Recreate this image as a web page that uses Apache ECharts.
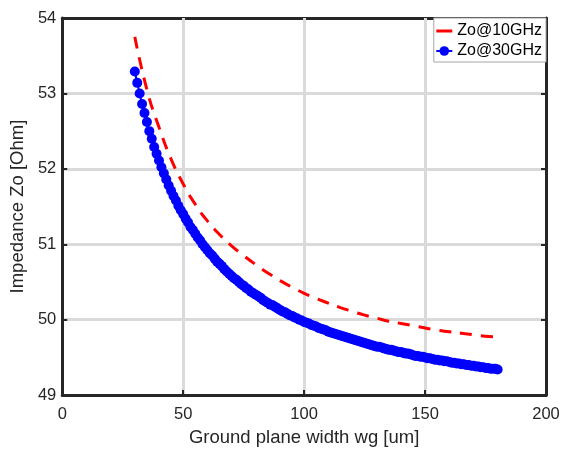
<!DOCTYPE html>
<html>
<head>
<meta charset="utf-8">
<script src="https://cdn.jsdelivr.net/npm/echarts@6/dist/echarts.min.js"></script>
<style>html,body{margin:0;padding:0;background:#fff;overflow:hidden;}#c{width:563px;height:452px;}</style>
</head>
<body>
<div id="c"></div>
<script>
// Zo @ 10 GHz (dashed red)
const wg10 = [30,35,40,45,50,55,60,65,70,75,80,85,90,95,100,105,110,115,120,125,130,135,140,145,150,155,160,165,170,175,180];
const zo10 = [53.75,53.05,52.55,52.13,51.80,51.53,51.31,51.13,50.98,50.85,50.73,50.62,50.52,50.43,50.35,50.28,50.22,50.16,50.11,50.06,50.02,49.98,49.95,49.92,49.89,49.86,49.84,49.82,49.80,49.78,49.77];

// Zo @ 30 GHz (blue with markers)
const wg30 = [30,31,32,33,34,35,36,37,38,39,40,41,42,43,44,45,46,47,48,49,50,51,52,53,54,55,56,57,58,59,60,61,62,63,64,65,66,67,68,69,70,71,72,73,74,75,76,77,78,79,80,81,82,83,84,85,86,87,88,89,90,91,92,93,94,95,96,97,98,99,100,101,102,103,104,105,106,107,108,109,110,111,112,113,114,115,116,117,118,119,120,121,122,123,124,125,126,127,128,129,130,131,132,133,134,135,136,137,138,139,140,141,142,143,144,145,146,147,148,149,150,151,152,153,154,155,156,157,158,159,160,161,162,163,164,165,166,167,168,169,170,171,172,173,174,175,176,177,178,179,180];
const zo30 = [53.29,53.14,53.00,52.86,52.74,52.62,52.50,52.40,52.29,52.20,52.11,52.02,51.94,51.86,51.78,51.71,51.64,51.58,51.51,51.45,51.40,51.34,51.29,51.23,51.19,51.14,51.09,51.05,51.00,50.96,50.92,50.88,50.85,50.81,50.77,50.74,50.71,50.67,50.64,50.61,50.58,50.55,50.53,50.50,50.47,50.45,50.42,50.40,50.37,50.35,50.33,50.31,50.29,50.26,50.24,50.22,50.20,50.19,50.17,50.15,50.13,50.11,50.10,50.08,50.06,50.05,50.03,50.02,50.00,49.99,49.97,49.96,49.95,49.93,49.92,49.91,49.89,49.88,49.87,49.86,49.84,49.83,49.82,49.81,49.80,49.79,49.78,49.77,49.76,49.75,49.74,49.73,49.72,49.71,49.70,49.69,49.68,49.67,49.66,49.65,49.64,49.64,49.63,49.62,49.61,49.60,49.60,49.59,49.58,49.57,49.57,49.56,49.55,49.55,49.54,49.53,49.52,49.52,49.51,49.51,49.50,49.49,49.49,49.48,49.47,49.47,49.46,49.46,49.45,49.45,49.44,49.43,49.43,49.42,49.42,49.41,49.41,49.40,49.40,49.39,49.39,49.38,49.38,49.37,49.37,49.36,49.36,49.35,49.35,49.35,49.34];

const xTicks = [0, 50, 100, 150, 200];
const yTicks = [49, 50, 51, 52, 53, 54];
const seriesNames = ['Zo@10GHz', 'Zo@30GHz'];
const xName = 'Ground plane width wg [um]';
const yName = 'Impedance Zo [Ohm]';

const FONT = '"Liberation Sans", Arial, sans-serif';
const AX = '#262626';
const GRIDC = '#dadada';

const chart = echarts.init(document.getElementById('c'), null, {renderer: 'canvas'});

const baseX = {
  type: 'value', min: xTicks[0], max: xTicks[xTicks.length-1], interval: 50,
};
const baseY = {
  type: 'value', min: yTicks[0], max: yTicks[yTicks.length-1], interval: 1,
};
const grid = {show: true, lineStyle: {color: GRIDC, width: 3}, showMinLine: false, showMaxLine: false};

chart.setOption({
  animation: false,
  backgroundColor: '#fff',
  grid: {left: 58, right: 17, top: 18, bottom: 49, containLabel: false},
  legend: {
    data: [
      {name: seriesNames[0], itemStyle: {opacity: 0}, lineStyle: {type: 'solid', width: 3}},
      {name: seriesNames[1]}
    ],
    orient: 'vertical',
    right: 17, top: 18,
    backgroundColor: '#fff',
    borderColor: '#a6a6a6', borderWidth: 1,
    padding: [5, 4, 3, 1],
    itemWidth: 16, itemHeight: 12, itemGap: 4,
    textStyle: {fontFamily: FONT, fontSize: 16, color: '#000'},
    z: 10
  },
  xAxis: [
    Object.assign({}, baseX, {
      position: 'bottom',
      name: xName, nameLocation: 'middle', nameGap: 30,
      nameTextStyle: {fontFamily: FONT, fontSize: 18.5, color: AX},
      axisLine: {show: true, onZero: false, lineStyle: {color: AX, width: 3}},
      axisTick: {show: true, inside: true, length: 5, lineStyle: {color: AX, width: 2}},
      axisLabel: {fontFamily: FONT, fontSize: 16.5, color: AX, margin: 11},
      splitLine: grid,
      z: 3
    }),
    Object.assign({}, baseX, {
      position: 'top',
      axisLine: {show: true, onZero: false, lineStyle: {color: AX, width: 3}},
      axisTick: {show: true, inside: true, length: 5, lineStyle: {color: AX, width: 2}},
      axisLabel: {show: false},
      splitLine: {show: false}
    })
  ],
  yAxis: [
    Object.assign({}, baseY, {
      position: 'left',
      name: yName, nameLocation: 'middle', nameGap: 30,
      nameTextStyle: {fontFamily: FONT, fontSize: 18.5, color: AX},
      axisLine: {show: true, onZero: false, lineStyle: {color: AX, width: 3}},
      axisTick: {show: true, inside: true, length: 5, lineStyle: {color: AX, width: 2}},
      axisLabel: {fontFamily: FONT, fontSize: 16.5, color: AX, margin: 6},
      splitLine: grid
    }),
    Object.assign({}, baseY, {
      position: 'right',
      axisLine: {show: true, onZero: false, lineStyle: {color: AX, width: 3}},
      axisTick: {show: true, inside: true, length: 5, lineStyle: {color: AX, width: 2}},
      axisLabel: {show: false},
      splitLine: {show: false}
    })
  ],
  series: [
    {
      name: seriesNames[0], type: 'line', xAxisIndex: 0, yAxisIndex: 0,
      data: wg10.map((x, i) => [x, zo10[i]]),
      smooth: true, showSymbol: false, symbol: 'none',
      lineStyle: {color: '#ff0000', width: 3, type: [12, 9]},
      itemStyle: {color: '#ff0000'},
      z: 4
    },
    {
      name: seriesNames[1], type: 'line', xAxisIndex: 0, yAxisIndex: 0,
      data: wg30.map((x, i) => [x, zo30[i]]),
      symbol: 'circle', symbolSize: 10, showAllSymbol: true,
      lineStyle: {color: '#0000ff', width: 2},
      itemStyle: {color: '#0000ff'},
      z: 5
    }
  ]
});
</script>
</body>
</html>
